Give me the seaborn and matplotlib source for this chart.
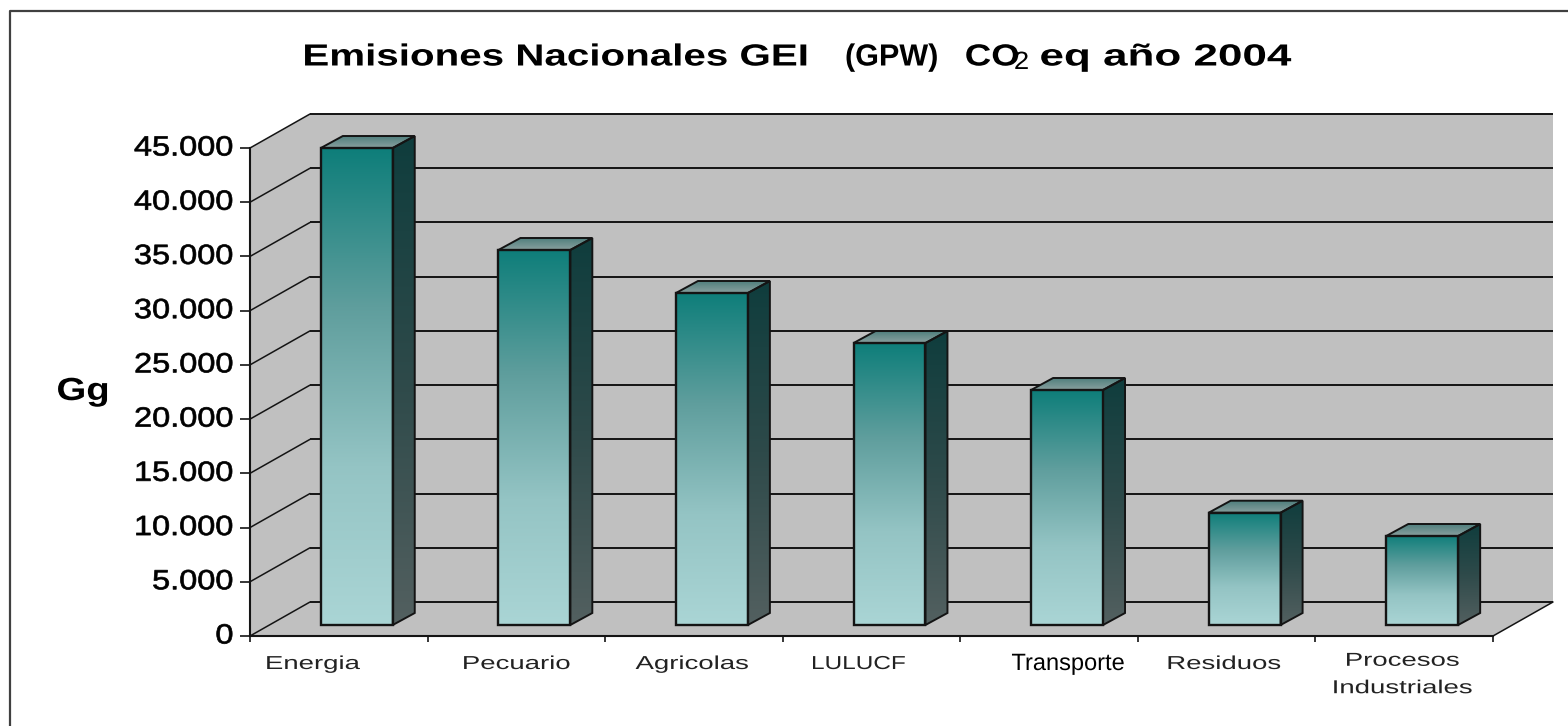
import numpy as np
import pandas as pd
import matplotlib
matplotlib.use('Agg')
import matplotlib.pyplot as plt
import matplotlib.patheffects as pe
from matplotlib.colors import LinearSegmentedColormap
from matplotlib.lines import Line2D
from matplotlib.patches import Polygon
from matplotlib.transforms import Affine2D, IdentityTransform
import seaborn as sns

categorias = ['Energia', 'Pecuario', 'Agricolas', 'LULUCF', 'Transporte', 'Residuos', 'Procesos\nIndustriales']
emisiones = [43985, 34580, 30615, 26000, 21670, 10355, 8207]
y_ticks = [0, 5000, 10000, 15000, 20000, 25000, 30000, 35000, 40000, 45000]
y_labels = ['0', '5.000', '10.000', '15.000', '20.000', '25.000', '30.000', '35.000', '40.000', '45.000']

W, H = 1568, 726
# plano frontal del grafico en pixeles
LEFT, RIGHT, BOTTOM, TOP = 250, 1493, 636, 148
WALL_DX, WALL_DY = 60, 34    # profundidad de la pared
BAR_DX, BAR_DY = 18, 11      # donde se apoyan las barras
DEPTH_DX, DEPTH_DY = 22, 12  # profundidad de cada barra
GREY = '#C0C0C0'
LINE = '#141414'


class Stretch(pe.AbstractPathEffect):
    # el texto original esta estirado a lo ancho
    def __init__(self, sx, anchor=0.5, stroke=0.0, dy=0.0):
        super().__init__()
        self.sx, self.anchor, self.stroke, self.dy = sx, anchor, stroke, dy

    def draw_path(self, renderer, gc, tpath, affine, rgbFace=None):
        box = tpath.get_extents()
        cx = box.x0 + self.anchor * box.width
        tr = Affine2D().translate(-cx, 0).scale(self.sx, 1).translate(cx, 0) + affine + Affine2D().translate(0, self.dy)
        gc0 = renderer.new_gc()
        gc0.copy_properties(gc)
        if self.stroke > 0:
            gc0.set_linewidth(self.stroke)
            gc0.set_foreground(rgbFace)
        renderer.draw_path(gc0, tpath, tr, rgbFace)
        gc0.restore()


sns.set_theme(style='white')
plt.rcParams['font.family'] = ['Liberation Sans', 'DejaVu Sans']

df = pd.DataFrame({'categoria': categorias, 'valor': emisiones})

fig = plt.figure(figsize=(W / 100, H / 100), dpi=100, facecolor='white')
ax = fig.add_axes([LEFT / W, (H - BOTTOM) / H, (RIGHT - LEFT) / W, (BOTTOM - TOP) / H])
ax.patch.set_visible(False)

sns.barplot(data=df, x='categoria', y='valor', color='#AAD5D5', width=0.405, edgecolor=LINE, linewidth=1.7, ax=ax, zorder=5)
ax.set_xlim(-0.5, 6.5)
ax.set_ylim(0, 45000)
ax.set_xlabel('')
ax.set_ylabel('')

pix = IdentityTransform()
data_pix = ax.transData
wall_tr = ax.transData + Affine2D().translate(WALL_DX, WALL_DY)
bar_tr = ax.transData + Affine2D().translate(BAR_DX, BAR_DY)

# paredes y piso
(x_l, y_b), (x_r, y_t) = data_pix.transform([(-0.5, 0), (6.5, 45000)])
ax.add_patch(Polygon([(x_l, y_b), (x_r, y_b), (x_r + WALL_DX, y_b + WALL_DY), (x_r + WALL_DX, y_t + WALL_DY),
                      (x_l + WALL_DX, y_t + WALL_DY), (x_l, y_t)],
                     closed=True, fc=GREY, ec='none', transform=pix, clip_on=False, zorder=0))

# grilla sobre la pared y diagonales
for v in y_ticks:
    ax.plot([-0.5, 6.5], [v, v], color=LINE, lw=1.4, transform=wall_tr, clip_on=False, zorder=1, solid_capstyle='butt')
    px, py = data_pix.transform((-0.5, v))
    ax.plot([px, px + WALL_DX], [py, py + WALL_DY], color=LINE, lw=1.1, transform=pix, clip_on=False, zorder=1)
px, py = data_pix.transform((6.5, 0))
ax.plot([px, px + WALL_DX], [py, py + WALL_DY], color=LINE, lw=1.1, transform=pix, clip_on=False, zorder=1)

# caras de las barras con degradado
front_cmap = LinearSegmentedColormap.from_list('front', ['#0E7E7A', '#5F9E9D', '#94C4C4', '#AAD5D5'])
side_cmap = LinearSegmentedColormap.from_list('side', ['#0F3D3D', '#2E4A4A', '#536060'])
top_cmap = LinearSegmentedColormap.from_list('top', ['#4F7F7D', '#8AA09F'])
grad = np.linspace(0, 1, 256)[:, None]


def face(pts, cmap, extent):
    poly = Polygon(pts, closed=True, fc='none', ec=LINE, lw=1.4, transform=pix, clip_on=False, zorder=6)
    ax.add_patch(poly)
    im = ax.imshow(grad, cmap=cmap, extent=extent, aspect='auto', origin='upper', transform=pix,
                   interpolation='bilinear', zorder=4)
    im.set_clip_box(fig.bbox)
    im.set_clip_path(poly)


for bar in ax.patches[:len(categorias)]:
    x0, x1 = bar.get_x(), bar.get_x() + bar.get_width()
    (fx0, fy0), (fx1, fy1) = bar_tr.transform([(x0, 0), (x1, bar.get_height())])
    bar.set_transform(bar_tr)
    bar.set_clip_on(False)
    bar.set_facecolor('none')
    bar.set_zorder(7)
    face([(fx0, fy0), (fx1, fy0), (fx1, fy1), (fx0, fy1)], front_cmap, (fx0, fx1, fy0, fy1))
    face([(fx1, fy0), (fx1 + DEPTH_DX, fy0 + DEPTH_DY), (fx1 + DEPTH_DX, fy1 + DEPTH_DY), (fx1, fy1)],
         side_cmap, (fx1, fx1 + DEPTH_DX, fy0, fy1 + DEPTH_DY))
    face([(fx0, fy1), (fx1, fy1), (fx1 + DEPTH_DX, fy1 + DEPTH_DY), (fx0 + DEPTH_DX, fy1 + DEPTH_DY)],
         top_cmap, (fx0, fx1 + DEPTH_DX, fy1, fy1 + DEPTH_DY))

# ejes
sns.despine(ax=ax, top=True, right=True)
for s in ['left', 'bottom']:
    ax.spines[s].set_color(LINE)
    ax.spines[s].set_linewidth(1.5)
ax.set_yticks(y_ticks)
ax.set_yticklabels(y_labels)
ax.set_xticks(np.arange(-0.5, 7))
ax.set_xticklabels([])
ax.tick_params(axis='y', length=7, width=1.2, color=LINE, left=True, pad=5, labelsize=20, labelcolor='black')
ax.tick_params(axis='x', length=4.5, width=1.2, color=LINE, bottom=True)
for lab in ax.get_yticklabels():
    lab.set_path_effects([Stretch(1.17, 1.0, 0.5, 2.5)])

# etiquetas de categoria, puestas a mano como en el original
label_dx = [-26, 0, -2, -13, 19, -3, -2]
label_dy = [-28.5, -28.5, -28.5, -28.5, -28, -28.5, -39]
label_sx = [1.47, 1.47, 1.47, 1.3, 1.0, 1.47, 1.47]
for i, cat in enumerate(categorias):
    arial = cat == 'Transporte'
    t = ax.annotate(cat, (i, 0), xytext=(label_dx[i], label_dy[i]), xycoords='data', textcoords='offset pixels',
                    ha='center', va='center', fontsize=17 if arial else 13.5, color='black' if arial else '#222222',
                    linespacing=1.8, annotation_clip=False)
    t.set_path_effects([Stretch(label_sx[i])])

ax.set_ylabel('Gg', rotation=0, fontsize=23, fontweight='bold', color='black', va='center', ha='center')
ax.yaxis.set_label_coords((83 - LEFT) / (RIGHT - LEFT), (BOTTOM - 392) / (BOTTOM - TOP))
ax.yaxis.label.set_path_effects([Stretch(1.2)])

# titulo por partes porque no todas estan estiradas igual
title_parts = [('Emisiones Nacionales GEI', 303, 22, 'bold', 1.32),
               ('(GPW)', 845, 22, 'bold', 1.0),
               ('CO', 965, 22, 'bold', 1.2),
               ('2', 1014, 18, 'normal', 1.1),
               ('eq año 2004', 1040, 22, 'bold', 1.44)]
for txt, xp, size, weight, sx in title_parts:
    yp = 62 if txt == '2' else 54
    t = fig.text(xp / W, 1 - yp / H, txt, fontsize=size, fontweight=weight, color='black',
                 ha='left', va='center_baseline' if txt != '2' else 'center')
    t.set_path_effects([Stretch(sx, 0.0)])

# marco exterior, cortado a la derecha y abajo
fig.add_artist(Line2D([10 / W, 10 / W, 1], [0, 1 - 11 / H, 1 - 11 / H], color='#404040', lw=1.6, transform=fig.transFigure))

fig.savefig('out.png', dpi=100, facecolor='white')
